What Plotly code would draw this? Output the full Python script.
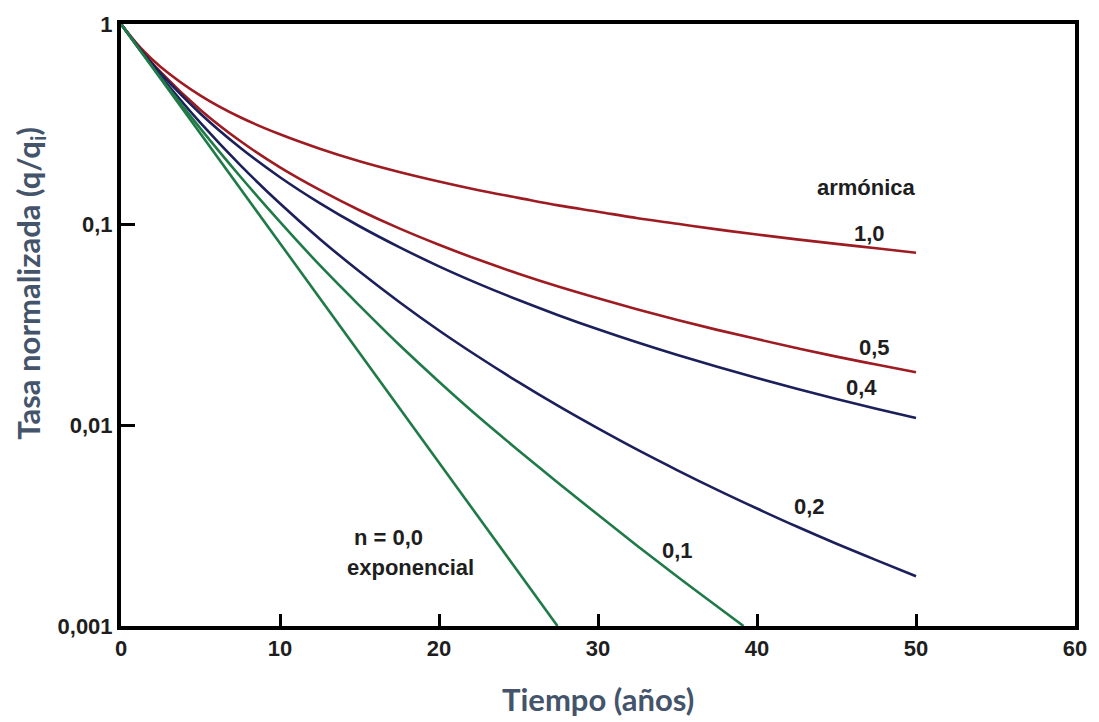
import numpy as np
import plotly.graph_objects as go

# Time (years)
t_main = [0, 1.25, 2.5, 5, 7.5, 10, 12.5, 15, 17.5, 20, 22.5, 25, 27.5, 30,
          32.5, 35, 37.5, 40, 42.5, 45, 47.5, 50]

# Normalized rate q/qi
q_b10 = [1, 0.758, 0.611, 0.440, 0.343, 0.282, 0.239, 0.207, 0.183, 0.164, 0.1484, 0.136,
         0.1248, 0.116, 0.1077, 0.101, 0.0947, 0.0893, 0.0845, 0.0802, 0.0763, 0.0725]
q_b05 = [1, 0.744, 0.575, 0.373, 0.261, 0.193, 0.149, 0.118, 0.0958, 0.0794, 0.0668, 0.0570,
         0.0492, 0.0430, 0.0378, 0.0335, 0.0299, 0.0269, 0.02427, 0.0220, 0.02008, 0.0184]
q_b04 = [1, 0.741, 0.567, 0.357, 0.2416, 0.1724, 0.1281, 0.0982, 0.0773, 0.0620, 0.0507, 0.0421,
         0.0354, 0.0301, 0.02585, 0.0224, 0.01956, 0.0172, 0.01521, 0.01354, 0.01211, 0.01088]
q_b02 = [1, 0.734, 0.549, 0.3213, 0.198, 0.1274, 0.0849, 0.0584, 0.0412, 0.0297, 0.0219, 0.01641,
         0.01249, 0.00965, 0.00754, 0.00597, 0.00477, 0.00385, 0.00313, 0.00257, 0.00213, 0.00177]

t_b01 = [0, 1.25, 2.5, 5, 7.5, 10, 12.5, 15, 17.5, 20, 22.5, 25, 27.5, 30, 32.5, 35, 37.5, 39.15]
q_b01 = [1, 0.731, 0.539, 0.301, 0.1738, 0.1032, 0.0628, 0.0395, 0.0252, 0.0165, 0.0110, 0.0075,
         0.00516, 0.00358, 0.00250, 0.00176, 0.00125, 0.001]

t_b00 = [0, 5, 10, 15, 20, 25, 27.45]
q_b00 = [1, 0.284, 0.0807, 0.0229, 0.00655, 0.00185, 0.001]

x_ticks = [0, 10, 20, 30, 40, 50, 60]
y_ticks = [1, 0.1, 0.01, 0.001]
y_tick_text = ["1", "0,1", "0,01", "0,001"]

# Curve labels: (text, x, y)
labels = [
    ("armónica", 46.9, 0.153),
    ("1,0", 47.1, 0.090),
    ("0,5", 47.4, 0.0244),
    ("0,4", 46.6, 0.01546),
    ("0,2", 43.3, 0.00396),
    ("0,1", 35.0, 0.00237),
    ("n = 0,0", 16.85, 0.00275),
    ("exponencial", 18.2, 0.00196),
]

RED = "#9E1B22"
NAVY = "#1B1F5A"
GREEN = "#1F7A48"

fig = go.Figure()
series = [
    (t_main, q_b10, RED, "spline"),
    (t_main, q_b05, RED, "spline"),
    (t_main, q_b04, NAVY, "spline"),
    (t_main, q_b02, NAVY, "spline"),
    (t_b01, q_b01, GREEN, "spline"),
    (t_b00, q_b00, GREEN, "linear"),
]
for xs, ys, c, shp in series:
    fig.add_trace(go.Scatter(x=xs, y=ys, mode="lines",
                             line=dict(color=c, width=2.6, shape=shp),
                             showlegend=False, hoverinfo="skip"))

FONT = "Liberation Sans, Arial, sans-serif"
tickfont = dict(family=FONT, size=22, color="#1e1e1e", weight="bold")

fig.update_xaxes(range=[0, 60], tickvals=x_ticks, ticktext=[str(v) for v in x_ticks],
                 showgrid=False, zeroline=False, showline=True, linecolor="black",
                 linewidth=4, mirror=True, ticks="inside", ticklen=12, tickwidth=2.5,
                 tickcolor="black", tickfont=tickfont)
fig.update_yaxes(type="log", range=[-3, 0], tickvals=y_ticks, ticktext=y_tick_text,
                 showgrid=False, zeroline=False, showline=True, linecolor="black",
                 linewidth=4, mirror=True, ticks="inside", ticklen=14, tickwidth=2.5,
                 tickcolor="black", tickfont=tickfont)

for text, x, y in labels:
    fig.add_annotation(x=x, y=np.log10(y), text=text, showarrow=False,
                       font=dict(family=FONT, size=22, color="#1e1e1e", weight="bold"),
                       xref="x", yref="y")

titlefont = dict(family="Lato, sans-serif", size=31, color="#44546A", weight="bold")
fig.add_annotation(text="Tiempo (años)", x=0.5, y=-(700 - 626) / 608,
                   xref="paper", yref="paper", yanchor="middle",
                   showarrow=False, font=titlefont)
fig.add_annotation(text="Tasa normalizada (q/q<sub>i</sub>)", textangle=-90,
                   x=-(121 - 30) / 957, y=(626 - 280) / 608,
                   xanchor="center", yanchor="middle",
                   xref="paper", yref="paper", showarrow=False, font=titlefont)

fig.update_layout(width=1099, height=722,
                  margin=dict(l=121, r=21, t=18, b=96),
                  paper_bgcolor="white", plot_bgcolor="white")

fig.write_html("out.html")
